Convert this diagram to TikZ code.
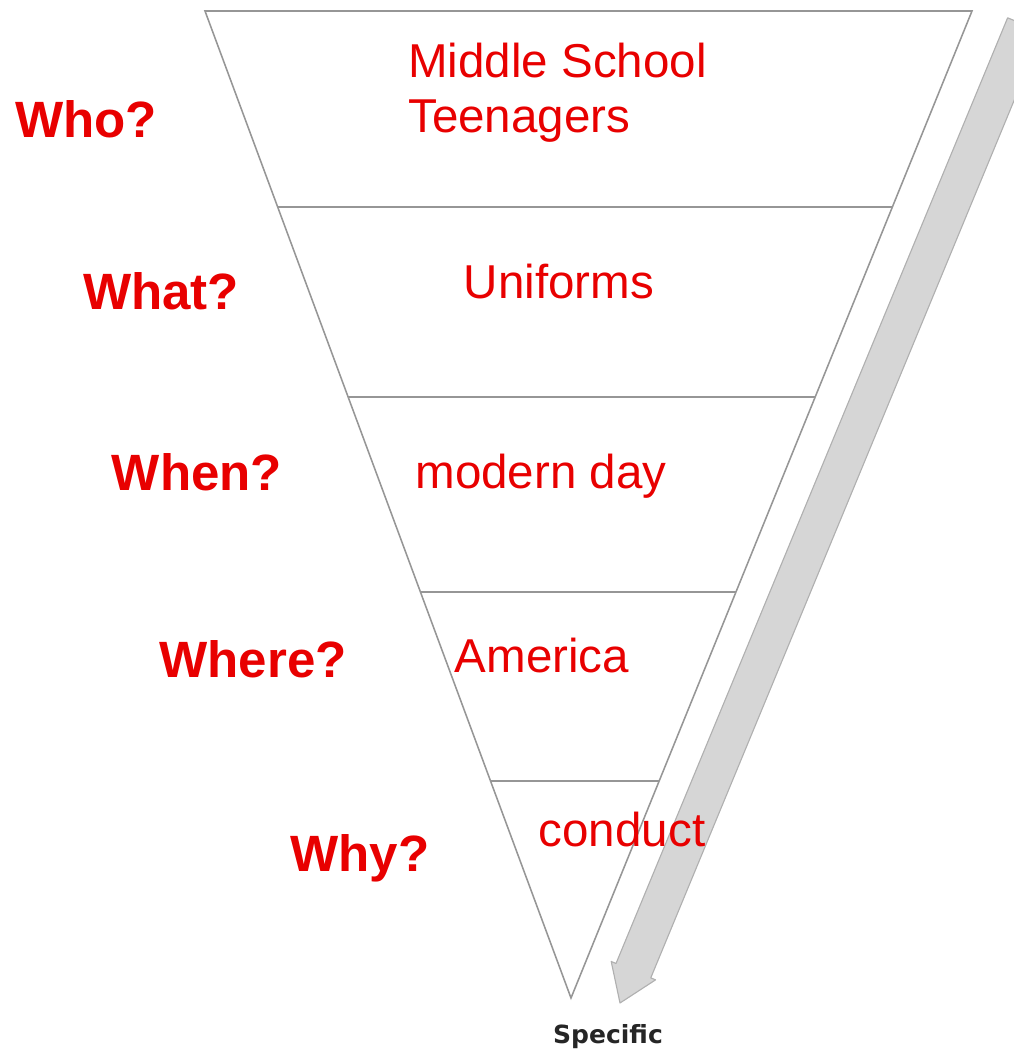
\documentclass[tikz,border=0pt]{standalone}
\usepackage{fontspec}
\setmainfont{Liberation Sans}
\newfontfamily\specfont{DejaVu Sans}
\usepackage{tikz}
\usetikzlibrary{calc}

\definecolor{qred}{RGB}{232,0,0}
\definecolor{edgegray}{RGB}{150,150,150}
\definecolor{arrowgray}{RGB}{214,214,214}
\definecolor{arrowline}{RGB}{176,176,176}

\tikzset{
    question/.style={qred, font=\fontsize{36.3}{40}\selectfont\bfseries, inner sep=0pt, anchor=base},
    answer/.style={qred, font=\fontsize{33.8}{39}\selectfont, inner sep=0pt, anchor=base},
    edge/.style={edgegray, line width=1.1pt},
}

\begin{document}
\begin{tikzpicture}[x=0.025cm, y=-0.025cm]
    \useasboundingbox (0,0) rectangle (1014,1055);
    \clip (0,0) rectangle (1014,1055);
    % funnel
    \coordinate (tl) at (205,11);
    \coordinate (tr) at (972,11);
    \coordinate (apex) at (571,998);
    \draw [edge] (tl) -- (tr) -- (apex) -- cycle;
    \draw [edge] ($(tl)!0.1986!(apex)$) -- ($(tr)!0.1986!(apex)$);
    \draw [edge] ($(tl)!0.3911!(apex)$) -- ($(tr)!0.3911!(apex)$);
    \draw [edge] ($(tl)!0.5887!(apex)$) -- ($(tr)!0.5887!(apex)$);
    \draw [edge] ($(tl)!0.7801!(apex)$) -- ($(tr)!0.7801!(apex)$);
    % gray arrow
    \coordinate (atop) at (1025,25);
    \coordinate (atip) at (620,1003);
    \coordinate (abase) at ($(atip)!0.875cm!(atop)$);
    \filldraw [fill=arrowgray, draw=arrowline, line width=0.8pt, line join=round]
        ($(atop)!0.47cm!-90:(atip)$) -- ($(abase)!0.47cm!-90:(atip)$)
        -- ($(abase)!0.6cm!-90:(atip)$) -- (atip)
        -- ($(abase)!0.6cm!90:(atip)$) -- ($(abase)!0.47cm!90:(atip)$)
        -- ($(atop)!0.47cm!90:(atip)$) -- cycle;
    % questions
    \node [question] (who) at (86,137) {Who?};
    \node [question] (what) at (161,309) {What?};
    \node [question] (when) at (197,490) {When?};
    \node [question] (where) at (253,677) {Where?};
    \node [question] (why) at (360,871) {Why?};
    % answers
    \node [answer, anchor=base west, align=left] (teens) at (408,132) {Middle School\\Teenagers};
    \node [answer] (uniforms) at (559,298) {Uniforms};
    \node [answer] (modern) at (541,488) {modern day};
    \node [answer] (america) at (542,672) {America};
    \node [answer] (conduct) at (622,846) {conduct};
    \node [anchor=base, inner sep=0pt, text=black!85, font=\specfont\fontsize{17.8}{20}\selectfont\bfseries] (specific) at (608,1043) {Specific};
\end{tikzpicture}
\end{document}
